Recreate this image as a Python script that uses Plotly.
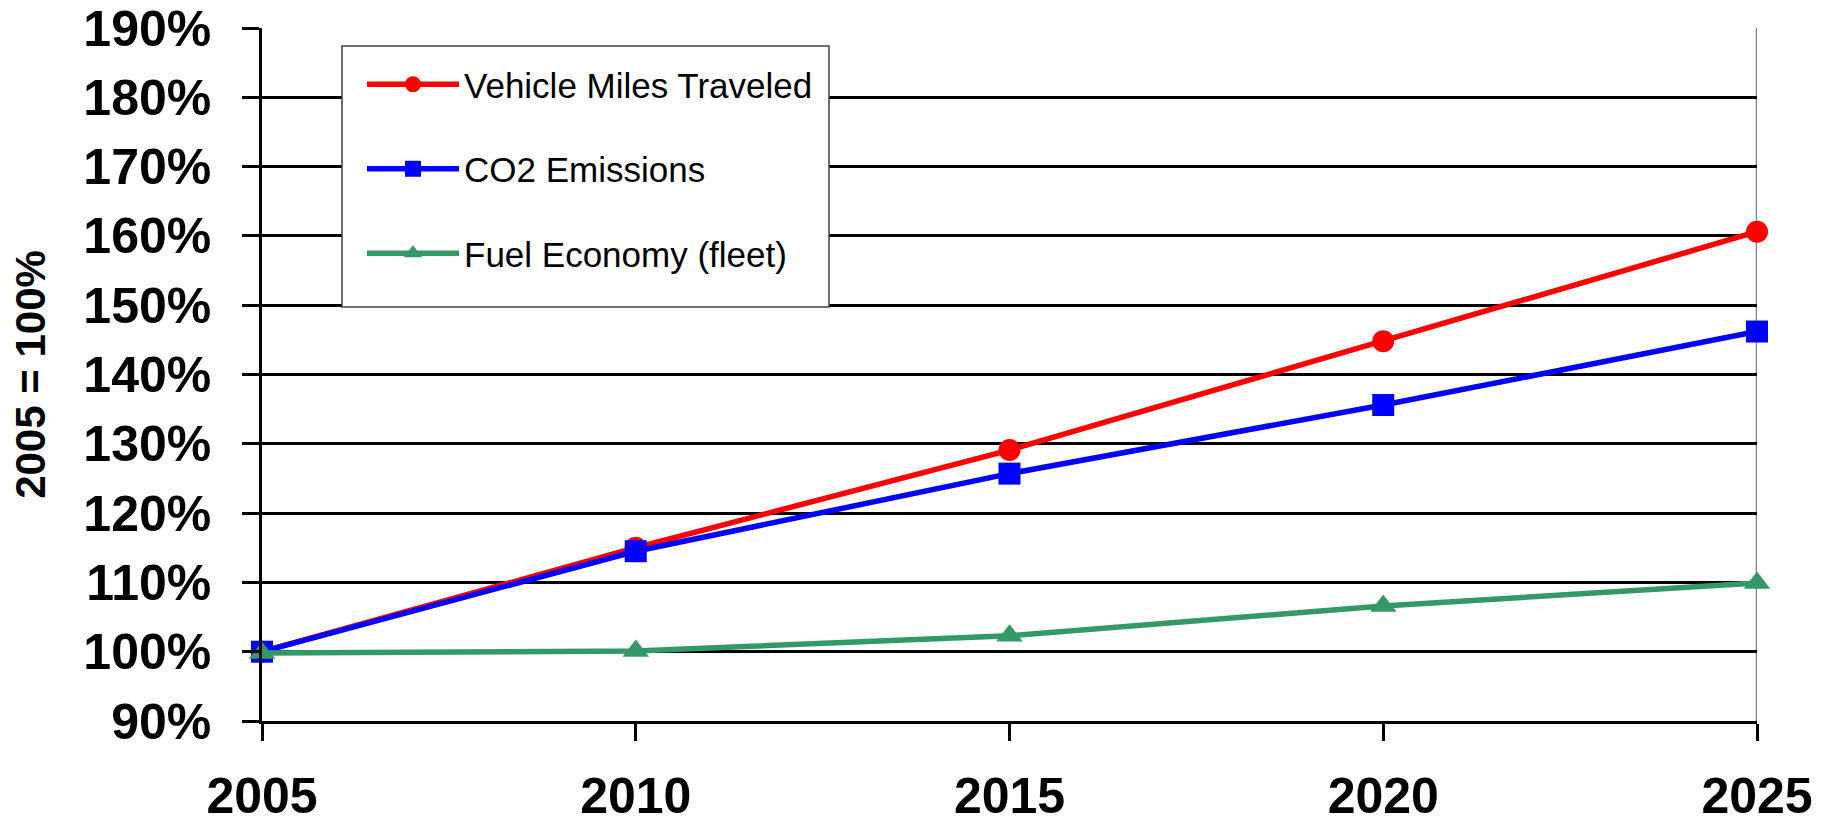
import plotly.graph_objects as go

years = [2005, 2010, 2015, 2020, 2025]
vmt = [100.0, 115.0, 129.1, 144.8, 160.6]
co2 = [100.0, 114.5, 125.7, 135.6, 146.2]
fuel = [99.8, 100.1, 102.3, 106.6, 109.9]

y_ticks = list(range(90, 191, 10))
y_labels = [f"{v}%" for v in y_ticks]

series = [
    ("Vehicle Miles Traveled", vmt, "#FF0000", "circle", 22),
    ("CO2 Emissions", co2, "#0000FF", "square", 22),
    ("Fuel Economy (fleet)", fuel, "#339966", "triangle-up", 23),
]

fig = go.Figure()
for i, (name, vals, color, sym, size) in enumerate(series):
    fig.add_trace(go.Scatter(
        x=years, y=vals, name=name, mode="lines+markers",
        line=dict(color=color, width=5.5),
        marker=dict(symbol=sym, size=size, color=color, line=dict(width=0)),
        cliponaxis=False, legendgroup=f"g{i}",
    ))

W, H = 1822, 823
L, R, T, B = 262, 1822 - 1757, 28, 823 - 721
FONT = "Liberation Sans, Arial, sans-serif"

fig.update_layout(
    width=W, height=H,
    margin=dict(l=L, r=R, t=T, b=B, autoexpand=False),
    paper_bgcolor="white", plot_bgcolor="white",
    font=dict(family=FONT, color="black"),
    showlegend=True,
    legend=dict(
        x=(362 - L) / (1757 - L), y=(721 - 55) / (721 - T),
        xanchor="left", yanchor="top",
        bgcolor="rgba(0,0,0,0)", borderwidth=0,
        font=dict(size=35, family=FONT, color="black"),
        itemwidth=92, tracegroupgap=36, itemsizing="trace",
    ),
    xaxis=dict(
        range=[2005, 2025], tickvals=years, ticktext=[str(y) for y in years],
        showgrid=False, zeroline=False,
        showline=True, linecolor="black", linewidth=2.5,
        ticks="outside", ticklen=17, tickwidth=2.5, tickcolor="black",
        tickfont=dict(size=50, family=FONT, weight="bold"),
        ticklabelstandoff=12,
    ),
    yaxis=dict(
        range=[90, 190], tickvals=y_ticks, ticktext=y_labels,
        showgrid=True, gridcolor="black", gridwidth=2.5, zeroline=False,
        showline=True, linecolor="black", linewidth=2.5,
        ticks="outside", ticklen=17, tickwidth=2.5, tickcolor="black",
        tickfont=dict(size=50, family=FONT, weight="bold"),
        ticklabelstandoff=21,
        title=dict(text="2005 = 100%", standoff=25,
                   font=dict(size=42, family=FONT, weight="bold")),
    ),
    shapes=[
        dict(type="line", xref="x", yref="y", x0=2025, x1=2025, y0=90, y1=190,
             line=dict(color="#808080", width=2.5), layer="below"),
        dict(type="rect", xref="paper", yref="paper",
             x0=(342 - L) / (1757 - L), x1=(829 - L) / (1757 - L),
             y0=(721 - 307) / (721 - T), y1=(721 - 46) / (721 - T),
             line=dict(color="#404040", width=1.5), fillcolor="white", layer="above"),
    ],
)

fig.write_html(
    "out.html",
    config={"displayModeBar": False},
    post_script="document.body.style.margin='0px';document.body.style.overflow='hidden';",
)
